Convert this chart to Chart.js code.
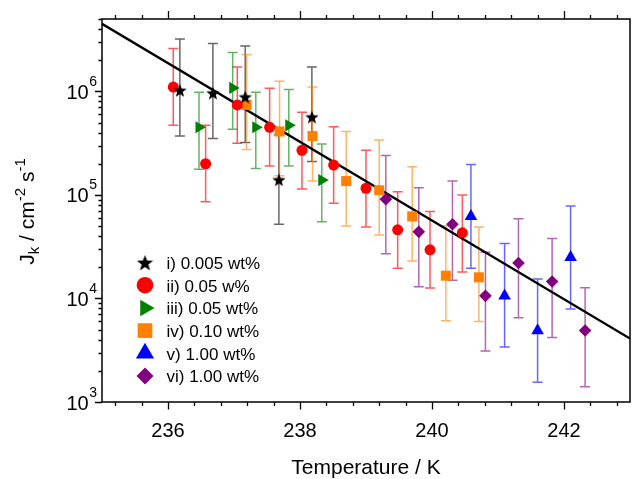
<!DOCTYPE html>
<html>
<head>
<meta charset="utf-8">
<script src="https://cdn.jsdelivr.net/npm/chart.js@4.4.0/dist/chart.umd.min.js"></script>
<style>
  html, body { margin: 0; padding: 0; background: #fff; }
  #wrap { width: 632px; height: 479px; }
</style>
</head>
<body>
<div id="wrap"><canvas id="myChart" width="632" height="479"></canvas></div>
<script>
// series i) 0.005 wt%
const tempI = [236.18, 236.68, 237.17, 237.68, 238.18];
const jI = [1.03e6, 9.7e5, 8.9e5, 1.41e5, 5.7e5];
const jILow = [3.7e5, 3.5e5, 3.2e5, 5.2e4, 2.1e5];
const jIHigh = [3.2e6, 2.9e6, 2.75e6, 3.8e5, 1.72e6];

// series ii) 0.05 w%
const tempII = [236.08, 236.57, 237.05, 237.54, 238.03, 238.51, 239.0, 239.48, 239.97, 240.46];
const jII = [1.10e6, 2.0e5, 7.4e5, 4.5e5, 2.7e5, 1.94e5, 1.16e5, 4.6e4, 2.95e4, 4.3e4];
const jIILow = [4.7e5, 8.6e4, 3.15e5, 1.9e5, 1.14e5, 8.3e4, 4.9e4, 1.96e4, 1.26e4, 1.8e4];
const jIIHigh = [2.6e6, 4.7e5, 1.72e6, 1.07e6, 6.3e5, 4.55e5, 2.7e5, 1.07e5, 6.9e4, 1.0e5];

// series iii) 0.05 wt%
const tempIII = [236.47, 236.98, 237.33, 237.83, 238.33];
const jIII = [4.5e5, 1.08e6, 4.5e5, 4.7e5, 1.39e5];
const jIIILow = [1.77e5, 4.3e5, 1.8e5, 1.9e5, 5.5e4];
const jIIIHigh = [9.8e5, 2.37e6, 9.8e5, 1.04e6, 3.1e5];

// series iv) 0.10 wt%
const tempIV = [237.19, 237.69, 238.19, 238.70, 239.20, 239.70, 240.21, 240.71];
const jIV = [7.4e5, 4.1e5, 3.7e5, 1.36e5, 1.11e5, 6.2e4, 1.66e4, 1.6e4];
const jIVLow = [2.75e5, 1.53e5, 1.36e5, 5.0e4, 4.1e4, 2.3e4, 6.1e3, 6.0e3];
const jIVHigh = [2.27e6, 1.25e6, 1.1e6, 4.1e5, 3.4e5, 1.87e5, 5.05e4, 4.9e4];

// series v) 1.00 wt%
const tempV = [240.59, 241.10, 241.60, 242.10];
const jV = [6.2e4, 1.06e4, 4.9e3, 2.5e4];
const jVLow = [1.96e4, 3.4e3, 1.55e3, 7.9e3];
const jVHigh = [1.97e5, 3.4e4, 1.54e4, 7.8e4];

// series vi) 1.00 wt%
const tempVI = [239.30, 239.80, 240.31, 240.81, 241.31, 241.82, 242.32];
const jVI = [9.1e4, 4.4e4, 5.2e4, 1.06e4, 2.2e4, 1.46e4, 4.9e3];
const jVILow = [2.7e4, 1.3e4, 1.5e4, 3.1e3, 6.5e3, 4.2e3, 1.4e3];
const jVIHigh = [2.4e5, 1.17e5, 1.36e5, 2.8e4, 5.9e4, 3.8e4, 1.27e4];

// fit line
const fitTemp = [235, 243];
const fitJ = [4.5e6, 4.1e3];

const seriesNames = ['i) 0.005 wt%', 'ii) 0.05 w%', 'iii) 0.05 wt%', 'iv) 0.10 wt%', 'v) 1.00 wt%', 'vi) 1.00 wt%'];

const xMajorTicks = [236, 238, 240, 242];
const yMajorTicks = [1e3, 1e4, 1e5, 1e6];

const FONT = '"Liberation Sans", Arial, sans-serif';

// filled 5 point star as a point image
function makeStar(size) {
    const c = document.createElement('canvas');
    c.width = size;
    c.height = size;
    const g = c.getContext('2d');
    const R = size / 2, r = R * 0.42;
    g.beginPath();
    for (let i = 0; i < 10; i++) {
        const a = -Math.PI / 2 + i * Math.PI / 5;
        const rr = i % 2 ? r : R;
        g.lineTo(R + rr * Math.cos(a), R + 1 + rr * Math.sin(a));
    }
    g.closePath();
    g.fillStyle = '#000';
    g.fill();
    return c;
}
const starSmall = makeStar(14);
const starBig = makeStar(17);

function pts(xs, ys) {
    return xs.map((t, i) => ({ x: t, y: ys[i] }));
}

function series(label, xs, ys, lo, hi, color, errColor, style, radius, rot) {
    return {
        label: label,
        data: pts(xs, ys),
        errLow: lo,
        errHigh: hi,
        errColor: errColor,
        backgroundColor: color,
        borderColor: color,
        borderWidth: 0,
        pointStyle: style,
        pointRadius: radius,
        pointRotation: rot || 0,
        showLine: false,
        order: 0
    };
}

const datasets = [
    series(seriesNames[0], tempI, jI, jILow, jIHigh, '#000000', 'rgba(0,0,0,0.6)', starSmall, 7),
    series(seriesNames[1], tempII, jII, jIILow, jIIHigh, '#ff0000', 'rgba(255,0,0,0.65)', 'circle', 5.5),
    series(seriesNames[2], tempIII, jIII, jIIILow, jIIIHigh, '#008000', 'rgba(0,128,0,0.6)', 'triangle', 7, 90),
    series(seriesNames[3], tempIV, jIV, jIVLow, jIVHigh, '#ff8000', 'rgba(255,128,0,0.6)', 'rect', 7.1),
    series(seriesNames[4], tempV, jV, jVLow, jVHigh, '#0000ff', 'rgba(0,0,255,0.6)', 'triangle', 7.3),
    series(seriesNames[5], tempVI, jVI, jVILow, jVIHigh, '#800080', 'rgba(128,0,128,0.6)', 'rectRot', 6.3),
    {
        label: 'fit',
        data: pts(fitTemp, fitJ),
        showLine: true,
        borderColor: '#000',
        borderWidth: 2.4,
        pointRadius: 0,
        fill: false,
        order: 1
    }
];

const legendMarks = [
    { style: starBig, radius: 8 },
    { style: 'circle', radius: 8.3 },
    { style: 'triangle', radius: 9.5, rot: 90 },
    { style: 'rect', radius: 10.4 },
    { style: 'triangle', radius: 10.5 },
    { style: 'rectRot', radius: 8.5 }
];

// vertical error bars, under the markers
const errorBars = {
    id: 'errorBars',
    beforeDatasetsDraw(chart) {
        const { ctx, chartArea, scales: { x, y } } = chart;
        ctx.save();
        ctx.beginPath();
        ctx.rect(chartArea.left, chartArea.top, chartArea.right - chartArea.left, chartArea.bottom - chartArea.top);
        ctx.clip();
        chart.data.datasets.forEach(ds => {
            if (!ds.errLow) return;
            ctx.strokeStyle = ds.errColor;
            ctx.lineWidth = 1.5;
            ds.data.forEach((p, i) => {
                const px = x.getPixelForValue(p.x);
                const lo = y.getPixelForValue(ds.errLow[i]);
                const hi = y.getPixelForValue(ds.errHigh[i]);
                ctx.beginPath();
                ctx.moveTo(px, lo); ctx.lineTo(px, hi);
                ctx.moveTo(px - 5, lo); ctx.lineTo(px + 5, lo);
                ctx.moveTo(px - 5, hi); ctx.lineTo(px + 5, hi);
                ctx.stroke();
            });
        });
        ctx.restore();
    }
};

// frame, ticks, tick labels, titles, legend
const decorations = {
    id: 'decorations',
    afterDraw(chart) {
        const { ctx, chartArea: a, scales: { x, y } } = chart;
        ctx.save();
        ctx.strokeStyle = '#000';
        ctx.fillStyle = '#000';

        // frame
        ctx.lineWidth = 1.5;
        ctx.strokeRect(a.left, a.top, a.right - a.left, a.bottom - a.top);

        // x ticks (bottom + top)
        ctx.lineWidth = 1.3;
        const xMinor = [];
        [234].concat(xMajorTicks).forEach(m => {
            for (let k = 1; k <= 4; k++) xMinor.push(m + 0.4 * k);
        });
        ctx.beginPath();
        xMinor.forEach(v => {
            if (v < x.min || v > x.max) return;
            const px = Math.round(x.getPixelForValue(v)) + 0.5;
            ctx.moveTo(px, a.bottom); ctx.lineTo(px, a.bottom + 4);
            ctx.moveTo(px, a.top); ctx.lineTo(px, a.top - 4);
        });
        xMajorTicks.forEach(v => {
            const px = Math.round(x.getPixelForValue(v)) + 0.5;
            ctx.moveTo(px, a.bottom); ctx.lineTo(px, a.bottom + 7.5);
            ctx.moveTo(px, a.top); ctx.lineTo(px, a.top - 8);
        });
        ctx.stroke();

        // y ticks (left)
        ctx.beginPath();
        yMajorTicks.forEach(d => {
            for (let k = 2; k <= 9; k++) {
                const v = d * k;
                if (v > y.max) continue;
                const py = Math.round(y.getPixelForValue(v)) + 0.5;
                ctx.moveTo(a.left, py); ctx.lineTo(a.left - 3.5, py);
            }
            const py = Math.round(y.getPixelForValue(d)) + 0.5;
            ctx.moveTo(a.left, py); ctx.lineTo(a.left - 7, py);
        });
        ctx.stroke();

        // x tick labels
        ctx.font = '20px ' + FONT;
        ctx.textAlign = 'center';
        ctx.textBaseline = 'alphabetic';
        xMajorTicks.forEach(v => {
            ctx.fillText(String(v), x.getPixelForValue(v), 437);
        });

        // y tick labels: 10 with superscript exponent
        yMajorTicks.forEach(d => {
            const py = y.getPixelForValue(d);
            const e = String(Math.round(Math.log10(d)));
            ctx.textAlign = 'right';
            ctx.font = '14px ' + FONT;
            ctx.fillText(e, 97, py - 5.5);
            const ew = ctx.measureText(e).width;
            ctx.font = '20px ' + FONT;
            ctx.fillText('10', 97 - ew - 0.5, py + 7.5);
        });

        // x title
        ctx.textAlign = 'center';
        ctx.font = '21px ' + FONT;
        ctx.fillText('Temperature / K', (a.left + a.right) / 2, 474);

        // y title, rotated: J_k / cm^-2 s^-1
        const parts = [
            { t: 'J', size: 21, dy: 0 },
            { t: 'k', size: 15, dy: 5 },
            { t: ' / cm', size: 21, dy: 0 },
            { t: '-2', size: 15, dy: -9 },
            { t: ' s', size: 21, dy: 0 },
            { t: '-1', size: 15, dy: -9 }
        ];
        let total = 0;
        parts.forEach(p => {
            ctx.font = p.size + 'px ' + FONT;
            p.w = ctx.measureText(p.t).width;
            total += p.w;
        });
        ctx.save();
        ctx.translate(34, (a.top + a.bottom) / 2 + 1);
        ctx.rotate(-Math.PI / 2);
        ctx.textAlign = 'left';
        let u = -total / 2;
        parts.forEach(p => {
            ctx.font = p.size + 'px ' + FONT;
            ctx.fillText(p.t, u, p.dy);
            u += p.w;
        });
        ctx.restore();

        // legend
        const drawPoint = Chart.helpers && Chart.helpers.drawPoint;
        chart.data.datasets.slice(0, 6).forEach((ds, i) => {
            const cy = 262.5 + i * 22.7;
            const m = legendMarks[i];
            ctx.fillStyle = ds.backgroundColor;
            ctx.strokeStyle = ds.backgroundColor;
            if (drawPoint) {
                drawPoint(ctx, { pointStyle: m.style, radius: m.radius, rotation: m.rot || 0, borderWidth: 0 }, 145, cy);
            }
            ctx.fillStyle = '#000';
            ctx.font = '17px ' + FONT;
            ctx.textAlign = 'left';
            ctx.fillText(ds.label, 166.5, cy + 6.3);
        });

        ctx.restore();
    }
};

const config = {
    type: 'scatter',
    data: { datasets: datasets },
    options: {
        responsive: false,
        animation: false,
        devicePixelRatio: 1,
        layout: { autoPadding: false, padding: { top: 19, right: 2, left: 0, bottom: 0 } },
        plugins: {
            legend: { display: false },
            tooltip: { enabled: false }
        },
        scales: {
            x: {
                type: 'linear',
                min: 235,
                max: 243,
                grid: { display: false },
                border: { display: false },
                ticks: { display: false },
                afterFit(s) { s.height = 77; }
            },
            y: {
                type: 'logarithmic',
                min: 1e3,
                max: 5e6,
                grid: { display: false },
                border: { display: false },
                ticks: { display: false },
                afterFit(s) { s.width = 102; }
            }
        }
    },
    plugins: [errorBars, decorations]
};

const myChart = new Chart(document.getElementById('myChart'), config);
</script>
</body>
</html>
